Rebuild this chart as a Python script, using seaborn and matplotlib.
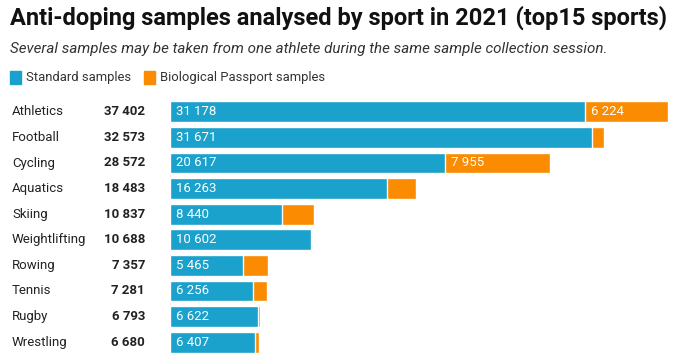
import numpy as np
import pandas as pd
import matplotlib.pyplot as plt
import seaborn as sns

# data
sports = ['Athletics', 'Football', 'Cycling', 'Aquatics', 'Skiing',
          'Weightlifting', 'Rowing', 'Tennis', 'Rugby', 'Wrestling']
standard = [31178, 31671, 20617, 16263, 8440, 10602, 5465, 6256, 6622, 6407]
passport = [6224, 902, 7955, 2220, 2397, 86, 1892, 1025, 171, 273]

blue = '#1aa1cc'
orange = '#fb8b00'

df = pd.DataFrame({'sport': sports, 'standard': standard, 'passport': passport})
df['total'] = df['standard'] + df['passport']

def fmt(v):
    return f'{v:,}'.replace(',', ' ')

sns.set_style('white')
plt.rcParams['font.family'] = ['Roboto', 'DejaVu Sans']

fig = plt.figure(figsize=(6.8, 3.55), dpi=100)
ax = fig.add_axes([170 / 680, 0 / 355, 498 / 680, 256 / 355])

sns.barplot(data=df, y='sport', x='total', color=orange, width=0.82,
            saturation=1, ax=ax, orient='h')
sns.barplot(data=df, y='sport', x='standard', color=blue, width=0.82,
            saturation=1, ax=ax, orient='h')

ax.set_xlim(0, df['total'].max())
ax.set_ylim(len(df) - 0.5, -0.5)
ax.set_xlabel('')
ax.set_ylabel('')
ax.set_xticks([])
ax.set_yticks([])
sns.despine(ax=ax, left=True, bottom=True)

px = df['total'].max() / 498
for i, row in df.iterrows():
    ax.text(-158 * px, i, row['sport'], ha='left', va='center', fontsize=9.5, color='#222222')
    ax.text(-25 * px, i, fmt(row['total']), ha='right', va='center', fontsize=9.5,
            fontweight='bold', color='#222222')
    ax.text(6 * px, i, fmt(row['standard']), ha='left', va='center', fontsize=9.5, color='white')
    if row['passport'] > 5000:
        ax.text(row['standard'] + 6 * px, i, fmt(row['passport']), ha='left', va='center',
                fontsize=9.5, color='white')

fig.text(10 / 680, 1 - 18 / 355, 'Anti-doping samples analysed by sport in 2021 (top15 sports)',
         ha='left', va='center', fontsize=17, fontweight='bold', color='#111111')
fig.text(10 / 680, 1 - 49 / 355,
         'Several samples may be taken from one athlete during the same sample collection session.',
         ha='left', va='center', fontsize=10.9, style='italic', color='#333333')

# legend
for x0, col, lab in [(10, blue, 'Standard samples'), (144, orange, 'Biological Passport samples')]:
    fig.patches.append(plt.Rectangle((x0 / 680, 1 - 84 / 355), 11 / 680, 13 / 355,
                                     transform=fig.transFigure, color=col))
    fig.text((x0 + 16) / 680, 1 - 77.5 / 355, lab, ha='left', va='center',
             fontsize=9.4, color='#333333')

fig.savefig('out.png', dpi=100)
